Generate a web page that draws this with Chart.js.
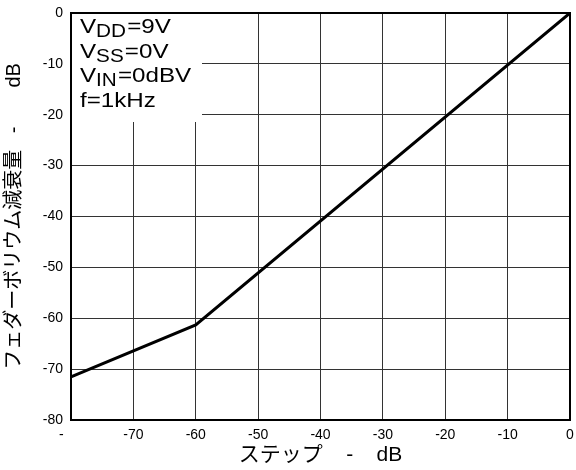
<!DOCTYPE html>
<html><head><meta charset="utf-8">
<script src="https://cdn.jsdelivr.net/npm/chart.js@4/dist/chart.umd.min.js"></script>
<style>html,body{margin:0;padding:0;background:#fff}#wrap{width:576px;height:470px}</style>
</head><body><div id="wrap"><canvas id="c" width="576" height="470"></canvas></div>
<script>
// ---- data ----
const stepDb = [-80, -60, 0];
const attenuationDb = [-71.5, -61.3, 0];
const xTickValues = [-80, -70, -60, -50, -40, -30, -20, -10, 0];
const yTickValues = [0, -10, -20, -30, -40, -50, -60, -70, -80];
const xTitle = 'ステップ    -    dB';
const yTitle = 'フェダーボリウム減衰量   -       dB';
const noteLines = [
  ['V', 'DD', '=9V'],
  ['V', 'SS', '=0V'],
  ['V', 'IN', '=0dBV'],
  ['f=1kHz', '', '']
];

const FONT = "'Liberation Sans', Arial, 'Noto Sans CJK JP', sans-serif";

const notePlugin = {
  id: 'notes',
  beforeDatasetsDraw(chart) {
    const a = chart.chartArea, ctx = chart.ctx;
    ctx.save();
    ctx.fillStyle = '#fff';
    ctx.fillRect(a.left + 1, a.top + 1, 130, 108);
    ctx.restore();
  },
  afterDraw(chart) {
    const a = chart.chartArea, ctx = chart.ctx;
    ctx.save();
    ctx.strokeStyle = '#000';
    ctx.lineWidth = 2;
    ctx.beginPath();
    ctx.moveTo(a.left, a.top);
    ctx.lineTo(a.right, a.top);
    ctx.lineTo(a.right, a.bottom);
    ctx.stroke();
    ctx.fillStyle = '#000';
    ctx.textBaseline = 'alphabetic';
    const sx = 1.15;
    const baselines = [20, 44.5, 69, 94];
    noteLines.forEach((parts, i) => {
      const y = a.top + baselines[i];
      ctx.save();
      ctx.translate(a.left + 9, 0);
      ctx.scale(sx, 1);
      let x = 0;
      ctx.font = '21px ' + FONT;
      ctx.fillText(parts[0], x, y);
      x += ctx.measureText(parts[0]).width;
      if (parts[1]) {
        ctx.font = '18px ' + FONT;
        ctx.fillText(parts[1], x, y + 4);
        x += ctx.measureText(parts[1]).width + 1;
      }
      if (parts[2]) {
        ctx.font = '21px ' + FONT;
        ctx.fillText(parts[2], x, y);
      }
      ctx.restore();
    });
    ctx.restore();
  }
};

new Chart(document.getElementById('c'), {
  type: 'line',
  data: {
    datasets: [{
      data: stepDb.map((x, i) => ({ x, y: attenuationDb[i] })),
      borderColor: '#000',
      borderWidth: 3,
      pointRadius: 0,
      tension: 0,
      fill: false
    }]
  },
  options: {
    responsive: false,
    animation: false,
    devicePixelRatio: 1,
    layout: { padding: { top: 13, right: 6, left: 0, bottom: 0 } },
    plugins: { legend: { display: false }, tooltip: { enabled: false } },
    scales: {
      x: {
        type: 'linear', min: -80, max: 0,
        afterBuildTicks: s => { s.ticks = xTickValues.map(v => ({ value: v })); },
        afterFit: s => { s.height = 50; s.paddingLeft = 0; s.paddingRight = 0; },
        grid: { color: '#333', lineWidth: 1, drawTicks: false },
        border: { display: true, color: '#000', width: 2 },
        ticks: {
          padding: 7, color: '#000', maxRotation: 0, autoSkip: false,
          font: { family: FONT, size: 14 },
          callback: v => (v === -80 ? '-     ' : String(v))
        },
        title: {
          display: true, text: xTitle, color: '#000',
          font: { family: FONT, size: 21 },
          padding: { top: 0, bottom: 2 }
        }
      },
      y: {
        type: 'linear', min: -80, max: 0,
        afterBuildTicks: s => { s.ticks = yTickValues.map(v => ({ value: v })); },
        afterFit: s => { s.width = 71; s.paddingTop = 0; s.paddingBottom = 0; },
        grid: { color: '#333', lineWidth: 1, drawTicks: false },
        border: { display: true, color: '#000', width: 2 },
        ticks: {
          padding: 8, color: '#000', autoSkip: false,
          font: { family: FONT, size: 14 }
        },
        title: {
          display: true, text: yTitle, color: '#000',
          font: { family: FONT, size: 20 },
          padding: { top: 2, bottom: 0 }
        }
      }
    }
  },
  plugins: [notePlugin]
});
</script>
</body></html>
